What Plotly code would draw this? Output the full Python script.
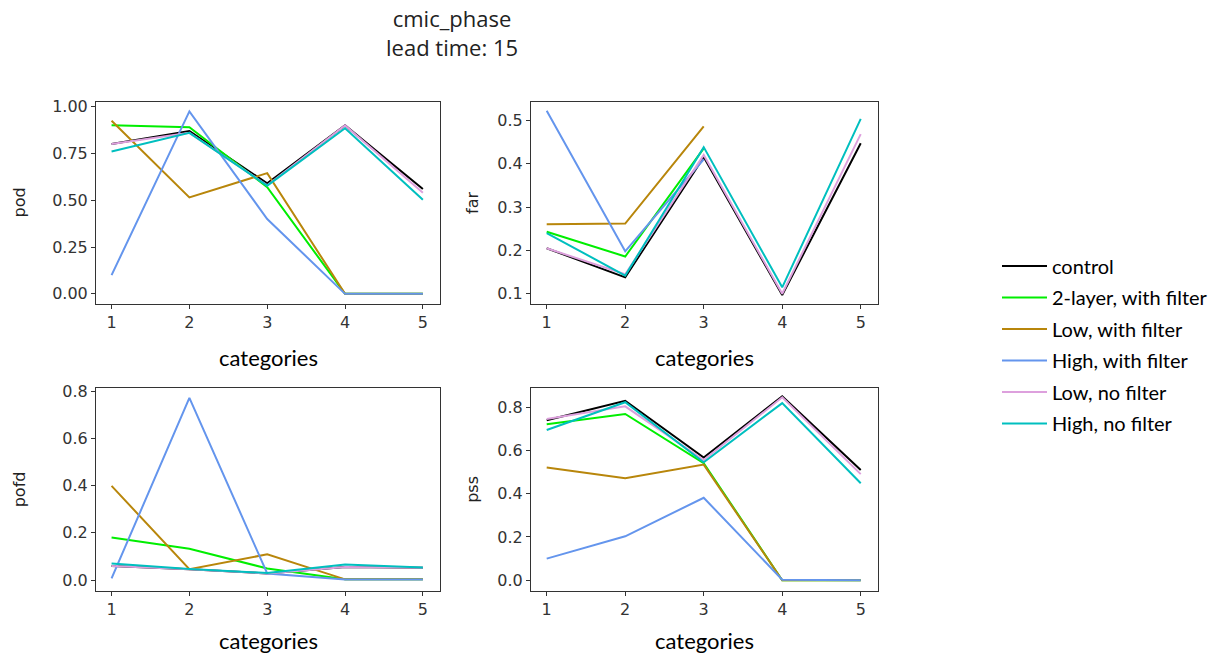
import plotly.graph_objects as go

categories = [1, 2, 3, 4, 5]
series_names = ["control", "2-layer, with filter", "Low, with filter",
                "High, with filter", "Low, no filter", "High, no filter"]
series_colors = ["#000000", "#00ee00", "#b8860b", "#6495ed", "#dda0dd", "#00bfbf"]

pod = {
    "control":              [0.80, 0.87, 0.59, 0.90, 0.56],
    "2-layer, with filter": [0.90, 0.89, 0.57, 0.00, 0.00],
    "Low, with filter":     [0.925, 0.515, 0.645, 0.00, 0.00],
    "High, with filter":    [0.10, 0.975, 0.40, 0.00, 0.00],
    "Low, no filter":       [0.80, 0.86, 0.58, 0.90, 0.54],
    "High, no filter":      [0.76, 0.86, 0.578, 0.885, 0.503],
}
far = {
    "control":              [0.205, 0.138, 0.415, 0.097, 0.447],
    "2-layer, with filter": [0.243, 0.186, 0.435, None, None],
    "Low, with filter":     [0.260, 0.262, 0.486, None, None],
    "High, with filter":    [0.522, 0.198, 0.41, None, None],
    "Low, no filter":       [0.205, 0.145, 0.42, 0.10, 0.468],
    "High, no filter":      [0.240, 0.142, 0.438, 0.115, 0.503],
}
pofd = {
    "control":              [0.060, 0.046, 0.028, 0.055, 0.052],
    "2-layer, with filter": [0.180, 0.133, 0.049, 0.003, 0.003],
    "Low, with filter":     [0.399, 0.046, 0.109, 0.003, 0.003],
    "High, with filter":    [0.007, 0.772, 0.028, 0.002, 0.002],
    "Low, no filter":       [0.060, 0.046, 0.028, 0.055, 0.052],
    "High, no filter":      [0.070, 0.047, 0.030, 0.066, 0.053],
}
pss = {
    "control":              [0.739, 0.829, 0.567, 0.849, 0.509],
    "2-layer, with filter": [0.720, 0.768, 0.541, 0.00, 0.00],
    "Low, with filter":     [0.521, 0.471, 0.534, 0.00, 0.00],
    "High, with filter":    [0.100, 0.203, 0.381, 0.003, 0.00],
    "Low, no filter":       [0.745, 0.803, 0.555, 0.845, 0.490],
    "High, no filter":      [0.694, 0.822, 0.545, 0.818, 0.448],
}

panels = [("pod", pod), ("far", far), ("pofd", pofd), ("pss", pss)]
y_ranges = [[-0.053, 1.025], [0.077, 0.542], [-0.045, 0.812], [-0.048, 0.886]]
y_ticks = [[0, 0.25, 0.5, 0.75, 1.0], [0.1, 0.2, 0.3, 0.4, 0.5],
           [0, 0.2, 0.4, 0.6, 0.8], [0, 0.2, 0.4, 0.6, 0.8]]
y_fmt = [".2f", ".1f", ".1f", ".1f"]
title_lines = ["cmic_phase", "lead time: 15"]

W, H = 1215, 655
def px_x(x):
    return x / W
def px_y(y):
    return 1 - y / H

x_domains = [[px_x(96), px_x(440)], [px_x(531), px_x(878)]]
y_domains = [[px_y(300), px_y(96)], [px_y(590), px_y(385.5)]]

fig = go.Figure()
tick_font = dict(family="DejaVu Sans", size=16, color="#333333")

for i, (name, data) in enumerate(panels):
    r, c = divmod(i, 2)
    ax = "" if i == 0 else str(i + 1)
    for s, col in zip(series_names, series_colors):
        fig.add_trace(go.Scatter(
            x=categories, y=data[s], mode="lines", name=s,
            line=dict(color=col, width=2), legendgroup=s,
            showlegend=(i == 0), xaxis="x" + ax, yaxis="y" + ax,
            connectgaps=False))
    fig.update_layout(**{
        "xaxis" + ax: dict(domain=x_domains[c], range=[0.8, 5.22], anchor="y" + ax,
                           tickvals=categories, showline=True, mirror=True,
                           linecolor="#333333", linewidth=1, ticks="outside",
                           ticklen=4, tickcolor="#333333", showgrid=False,
                           zeroline=False, tickfont=tick_font),
        "yaxis" + ax: dict(domain=y_domains[r], range=y_ranges[i], anchor="x" + ax,
                           tickvals=y_ticks[i], tickformat=y_fmt[i], showline=True,
                           mirror=True, linecolor="#333333", linewidth=1,
                           ticks="outside", ticklen=4, tickcolor="#333333",
                           showgrid=False, zeroline=False, tickfont=tick_font),
    })

annotations = []
label_font = dict(family="Lato", size=22, color="#000000")
for c in range(2):
    cx = (x_domains[c][0] + x_domains[c][1]) / 2
    for ypix in (354, 640):
        annotations.append(dict(text="categories", x=cx, y=px_y(ypix), xref="paper",
                                yref="paper", showarrow=False, font=label_font,
                                xanchor="center", yanchor="middle"))
ylab_pos = [(19.5, 198), (473, 198), (19.5, 488), (473, 488)]
for (name, _), (xp, yp) in zip(panels, ylab_pos):
    annotations.append(dict(text=name, x=px_x(xp), y=px_y(yp), xref="paper",
                            yref="paper", showarrow=False, textangle=-90,
                            font=dict(family="DejaVu Sans", size=16, color="#222222"),
                            xanchor="center", yanchor="middle"))
annotations.append(dict(text="<br>".join(title_lines), x=px_x(452), y=px_y(26),
                        xref="paper", yref="paper", showarrow=False,
                        font=dict(family="Open Sans", size=22, color="#222222"),
                        xanchor="center", yanchor="middle"))

fig.update_layout(
    width=W, height=H, margin=dict(l=0, r=0, t=0, b=0),
    paper_bgcolor="white", plot_bgcolor="white",
    annotations=annotations,
    legend=dict(x=px_x(997), y=px_y(242), xanchor="left", yanchor="top",
                font=dict(family="Lato", size=20, color="#000000"),
                tracegroupgap=2.5, bgcolor="rgba(0,0,0,0)", itemwidth=45),
)

fig.write_html("out.html")
